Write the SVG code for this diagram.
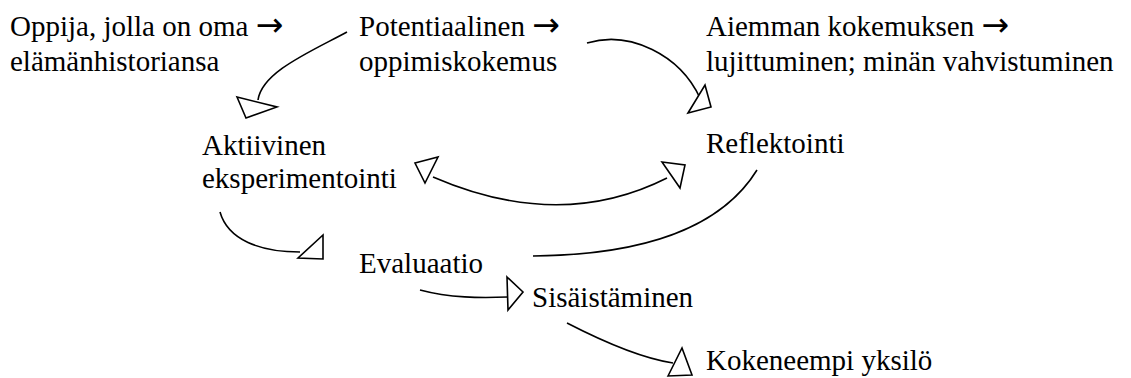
<svg xmlns="http://www.w3.org/2000/svg" width="1131" height="378" viewBox="0 0 1131 378">
<style>
text{font-family:"Liberation Serif","Times New Roman",serif;font-size:29px;fill:#000}
.ar{font-family:"DejaVu Sans",sans-serif;font-size:33px}
.c{fill:none;stroke:#000;stroke-width:1.6}
.h{fill:#fff;stroke:#000;stroke-width:1.6;stroke-linejoin:miter}
</style>
<rect width="1131" height="378" fill="#fff"/>
<g id="connectors">
<path class="c" d="M347,32 C310,52 262,72 258,100"/>
<polygon class="h" points="237,97 277,107 246,118"/>
<path class="c" d="M587,43 C630,30 680,55 700,98"/>
<polygon class="h" points="688,113 705,85 711,107"/>
<path class="c" d="M433,177 Q560,232 667,178"/>
<polygon class="h" points="415,163 438,157 425,183"/>
<polygon class="h" points="662,162 685,165 680,188"/>
<path class="c" d="M757,170 C720,230 640,255 533,256"/>
<path class="c" d="M220,212 C228,240 260,252 300,252"/>
<polygon class="h" points="298,258 323,235 323,259"/>
<path class="c" d="M420,290 C450,298 480,298 508,297"/>
<polygon class="h" points="507,277 523,292 508,310"/>
<path class="c" d="M567,323 C600,340 640,358 673,363"/>
<polygon class="h" points="668,376 682,348 692,375"/>
</g>
<g id="oppija"><text x="10" y="36">Oppija, jolla on oma <tspan class="ar">→</tspan></text><text x="10" y="71">elämänhistoriansa</text></g>
<g id="potentiaalinen"><text x="359" y="36">Potentiaalinen <tspan class="ar">→</tspan></text><text x="359" y="71">oppimiskokemus</text></g>
<g id="aiemman"><text x="706" y="36">Aiemman kokemuksen <tspan class="ar">→</tspan></text><text x="706" y="71">lujittuminen; minän vahvistuminen</text></g>
<g id="aktiivinen"><text x="202" y="155">Aktiivinen</text><text x="202" y="188">eksperimentointi</text></g>
<g id="reflektointi"><text x="706" y="153">Reflektointi</text></g>
<g id="evaluaatio"><text x="359" y="273">Evaluaatio</text></g>
<g id="sisaistaminen"><text x="532" y="307">Sisäistäminen</text></g>
<g id="kokeneempi"><text x="706" y="370">Kokeneempi yksilö</text></g>
</svg>
